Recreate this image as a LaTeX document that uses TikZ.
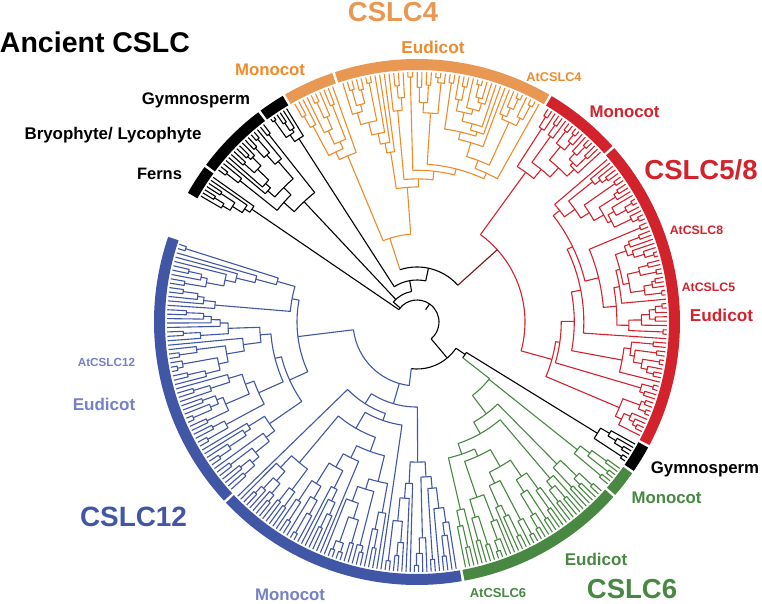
\documentclass[tikz,border=0pt]{standalone}
\usepackage{fontspec}
\setmainfont{Liberation Sans}
\definecolor{cOr}{RGB}{238,140,45}
\definecolor{cOrB}{RGB}{232,152,82}
\definecolor{cRd}{RGB}{210,35,45}
\definecolor{cBl}{RGB}{66,86,166}
\definecolor{cBlL}{RGB}{118,128,200}
\definecolor{cGr}{RGB}{72,136,66}

\newcount\tcN \newcount\tci \newcount\tcj \newcount\tcm
\def\Rleaf{250}
\def\tGA#1{\csname TA@\number#1\endcsname}
\def\tGR#1{\csname TR@\number#1\endcsname}

\def\TMerge#1#2{%
  \pgfmathtruncatemacro\kk{min(floor(rnd*(\the\tcN-1)),\the\tcN-2)}%
  \tcj=\kk\relax \advance\tcj by 1\relax
  \edef\aL{\tGA{\kk}}\edef\rL{\tGR{\kk}}%
  \edef\aR{\tGA{\tcj}}\edef\rR{\tGR{\tcj}}%
  \pgfmathsetmacro\rnew{min(\rL,\rR)-(#1+rnd*(#2-#1))}%
  \pgfmathsetmacro\anew{((\aL)+(\aR))/2}%
  \xdef\CladeOps{\unexpanded\expandafter{\CladeOps}\noexpand\DM{\aL}{\rL}{\aR}{\rR}{\rnew}}%
  \expandafter\xdef\csname TA@\kk\endcsname{\anew}%
  \expandafter\xdef\csname TR@\kk\endcsname{\rnew}%
  {\advance\tcj by 1\relax
   \loop\ifnum\tcj<\tcN
     \tcm=\tcj \advance\tcm by -1\relax
     \expandafter\xdef\csname TA@\the\tcm\endcsname{\tGA{\tcj}}%
     \expandafter\xdef\csname TR@\the\tcm\endcsname{\tGR{\tcj}}%
     \advance\tcj by 1\relax
   \repeat}%
  \global\advance\tcN by -1\relax
}

\def\TBuild#1#2#3#4#5{%
  \global\let\CladeOps\empty
  \global\tcN=#3\relax
  \tci=0
  \loop
    \pgfmathsetmacro\tmpa{(#1)+((#2)-(#1))*(\the\tci+0.5)/(#3)}%
    \expandafter\xdef\csname TA@\the\tci\endcsname{\tmpa}%
    \expandafter\xdef\csname TR@\the\tci\endcsname{\Rleaf}%
    \advance\tci by 1
  \ifnum\tci<#3\relax\repeat
  \loop\ifnum\tcN>1\relax
    \TMerge{#4}{#5}%
  \repeat
}

\def\DM#1#2#3#4#5{%
  \pgfmathsetmacro\qL{\Rleaf-(\Rleaf-#2)*\sfac}%
  \pgfmathsetmacro\qR{\Rleaf-(\Rleaf-#4)*\sfac}%
  \pgfmathsetmacro\qN{\Rleaf-(\Rleaf-#5)*\sfac}%
  \draw[curclade] (#1:\qL pt) -- (#1:\qN pt) arc[start angle=#1,end angle=#3,radius=\qN pt] -- (#3:\qR pt);
}

% name, a1, a2, N, seed, root radius, style, stem style
\def\TClade#1#2#3#4#5#6#7#8{%
  \pgfmathsetseed{#5}%
  \TBuild{#2}{#3}{#4}{3}{12}%
  \edef\tmpRA{\tGA{0}}\edef\tmpRR{\tGR{0}}%
  \pgfmathsetmacro\sfac{(\Rleaf-#6)/(\Rleaf-\tmpRR)}%
  \tikzset{curclade/.style={#7}}%
  \CladeOps
  \expandafter\xdef\csname NA@#1\endcsname{\tmpRA}%
  \expandafter\xdef\csname NR@#1\endcsname{#6}%
  \tikzset{NS-#1/.style={#8}}%
}

% name, child1, child2, radius, arc style, angle (or empty), stem style
\def\TJoin#1#2#3#4#5#6#7{%
  \edef\jA{\csname NA@#2\endcsname}\edef\jAr{\csname NR@#2\endcsname}%
  \edef\jB{\csname NA@#3\endcsname}\edef\jBr{\csname NR@#3\endcsname}%
  \def\tmpang{#6}%
  \ifx\tmpang\empty\pgfmathsetmacro\tmpang{((\jA)+(\jB))/2}\fi
  \draw[NS-#2] (\jA:\jAr pt) -- (\jA:#4pt);
  \draw[NS-#3] (\jB:\jBr pt) -- (\jB:#4pt);
  \draw[#5] (\jA:#4pt) arc[start angle=\jA,end angle=\tmpang,radius=#4pt] arc[start angle=\tmpang,end angle=\jB,radius=#4pt];
  \expandafter\xdef\csname NA@#1\endcsname{\tmpang}%
  \expandafter\xdef\csname NR@#1\endcsname{#4}%
  \tikzset{NS-#1/.style={#7}}%
}

\def\TBand#1#2#3{\draw[line width=11pt,#3] (#1:257.5pt) arc[start angle=#1,end angle=#2,radius=257.5pt];}

\begin{document}
\begin{tikzpicture}[x=1pt,y=1pt]
\fill[white] (0,0) rectangle (762,603);
\useasboundingbox (0,0) rectangle (762,603);
\tikzset{lbl/.style={inner sep=0pt,font=\bfseries}}

\begin{scope}[shift={(417,281)},line width=1.1pt,line join=round]
% bands
\TBand{150.6}{143.9}{black}
\TBand{143.3}{127.1}{black}
\TBand{126.5}{120.7}{black}
\TBand{120.1}{108.8}{cOrB}
\TBand{108.2}{59.8}{cOrB}
\TBand{59.2}{42.0}{cRd}
\TBand{41.4}{-27.9}{cRd}
\TBand{-28.5}{-34.5}{black}
\TBand{-35.1}{-41.1}{cGr}
\TBand{-41.7}{-79.6}{cGr}
\TBand{-80.2}{-136.6}{cBl}
\TBand{-137.2}{-198.9}{cBl}

% clades
\TClade{Ferns}{150.2}{144.2}{7}{11}{200}{black}{black}
\TClade{Bryo}{143.0}{127.4}{17}{23}{165}{black}{black}
\TClade{GymA}{126.2}{121.0}{6}{5}{218}{black}{black}
\TClade{OrMono}{119.8}{109.2}{10}{41}{180}{cOr}{cOr}
\TClade{OrEu}{107.8}{60.2}{44}{77}{135}{cOr}{cOr}
\TClade{RedMono}{58.9}{42.3}{17}{19}{185}{cRd}{cRd}
\TClade{RedEu}{41.0}{-27.5}{68}{63}{140}{cRd}{cRd}
\TClade{GymB}{-28.8}{-34.2}{6}{8}{212}{black}{black}
\TClade{GrMono}{-35.4}{-40.8}{6}{13}{205}{cGr}{cGr}
\TClade{GrEu}{-42.0}{-79.3}{38}{29}{115}{cGr}{cGr}
\TClade{BlMono}{-80.5}{-136.3}{58}{37}{85}{cBl}{cBl}
\TClade{BlEu}{-137.5}{-198.6}{60}{53}{120}{cBl}{cBl}

% backbone
\TJoin{Orange}{OrMono}{OrEu}{88}{cOr}{108}{cOr}
\TJoin{Red}{RedMono}{RedEu}{108}{cRd}{42}{cRd!55!black}
\TJoin{Z}{Orange}{Red}{55}{black}{78}{black}
\TJoin{Y}{GymA}{Z}{42}{black}{100}{black}
\TJoin{X}{Bryo}{Y}{31}{black}{140}{black}
\TJoin{R1}{Ferns}{X}{22}{black}{}{black}
\TJoin{Green}{GrMono}{GrEu}{92}{cGr}{-38}{cGr}
\TJoin{Q}{GymB}{Green}{58}{black}{-34}{black}
\TJoin{Blue}{BlMono}{BlEu}{64}{cBl}{-97}{cBl}
\TJoin{B}{Q}{Blue}{47}{black}{-50}{black}
\TJoin{Root}{R1}{B}{22}{black}{55}{black}
\coordinate (rootin) at (55:15pt);
\coordinate (rootout) at (55:22pt);
\draw (rootout) -- (rootin);
\end{scope}

% labels
\node[lbl] (tAnc) at (95,560.5) {\fontsize{28.5}{30}\selectfont Ancient CSLC};
\node[lbl,text=cOrB] (tC4) at (393,590.5) {\fontsize{27.5}{30}\selectfont CSLC4};
\node[lbl,text=cOr] (tOrEu) at (433,555.5) {\fontsize{17.2}{20}\selectfont Eudicot};
\node[lbl,text=cOr] (tAt4) at (554,526) {\fontsize{12.7}{14}\selectfont AtCSLC4};
\node[lbl,text=cOr] (tOrMo) at (270,533) {\fontsize{16.8}{20}\selectfont Monocot};
\node[lbl] (tGymA) at (196,503) {\fontsize{16.8}{20}\selectfont Gymnosperm};
\node[lbl] (tBryo) at (113,468) {\fontsize{16.9}{20}\selectfont Bryophyte/ Lycophyte};
\node[lbl] (tFern) at (159.5,429) {\fontsize{16.5}{20}\selectfont Ferns};
\node[lbl,text=cRd] (tRdMo) at (624.5,491) {\fontsize{16.8}{20}\selectfont Monocot};
\node[lbl,text=cRd] (tC58) at (701,433) {\fontsize{27.5}{30}\selectfont CSLC5/8};
\node[lbl,text=cRd] (tAt8) at (696.5,372.5) {\fontsize{12.3}{14}\selectfont AtCSLC8};
\node[lbl,text=cRd] (tAt5) at (708.5,316) {\fontsize{12.3}{14}\selectfont AtCSLC5};
\node[lbl,text=cRd] (tRdEu) at (721.5,287.5) {\fontsize{17.2}{20}\selectfont Eudicot};
\node[lbl] (tGymB) at (705,133.5) {\fontsize{16.8}{20}\selectfont Gymnosperm};
\node[lbl,text=cGr] (tGrMo) at (666.5,105) {\fontsize{16.8}{20}\selectfont Monocot};
\node[lbl,text=cGr] (tGrEu) at (596,43.5) {\fontsize{17}{20}\selectfont Eudicot};
\node[lbl,text=cGr] (tC6) at (632,14) {\fontsize{27.5}{30}\selectfont CSLC6};
\node[lbl,text=cGr] (tAt6) at (498,9.5) {\fontsize{13}{15}\selectfont AtCSLC6};
\node[lbl,text=cBlL] (tBlMo) at (290,8.5) {\fontsize{16.8}{20}\selectfont Monocot};
\node[lbl,text=cBl] (tC12) at (133.5,86) {\fontsize{27.9}{30}\selectfont CSLC12};
\node[lbl,text=cBlL] (tBlEu) at (104,199) {\fontsize{17}{20}\selectfont Eudicot};
\node[lbl,text=cBlL] (tAt12) at (106.5,241) {\fontsize{11.7}{14}\selectfont AtCSLC12};
\end{tikzpicture}
\end{document}
